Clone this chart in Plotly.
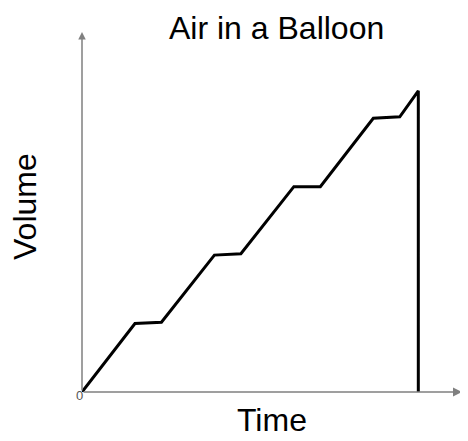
import plotly.graph_objects as go

time_vals = [0, 2, 3, 5, 6, 8, 9, 11, 12, 12.7, 12.7]
volume_vals = [0, 1, 1.02, 2, 2.02, 3, 3, 4, 4.02, 4.4, 0]

X_MAX = 14.35
Y_MAX = 5.26
FONT = "Liberation Sans, Arial"

fig = go.Figure()
fig.add_trace(go.Scatter(x=time_vals, y=volume_vals, mode="lines",
                         line=dict(color="#000000", width=3), hoverinfo="skip", cliponaxis=False))

# axes with arrows
fig.add_annotation(x=X_MAX, y=0, ax=0, ay=0, xref="x", yref="y", axref="x", ayref="y",
                   showarrow=True, arrowhead=2, arrowsize=1.2, arrowwidth=1.5,
                   arrowcolor="#808080", text="")
fig.add_annotation(x=0, y=Y_MAX, ax=0, ay=0, xref="x", yref="y", axref="x", ayref="y",
                   showarrow=True, arrowhead=2, arrowsize=1.0, arrowwidth=1.5,
                   arrowcolor="#808080", text="")
fig.add_annotation(x=0, y=0, xref="x", yref="y", text="0", showarrow=False,
                   xanchor="right", yanchor="top", xshift=3, yshift=6,
                   font=dict(family=FONT, size=13, color="#555555"))

# titles
fig.add_annotation(x=0.511, y=1.011, xref="paper", yref="paper", text="Air in a Balloon",
                   showarrow=False, xanchor="center", yanchor="middle",
                   font=dict(family=FONT, size=32, color="#000000"))
fig.add_annotation(x=0.5, y=-0.078, xref="paper", yref="paper", text="Time",
                   showarrow=False, xanchor="center", yanchor="middle",
                   font=dict(family=FONT, size=32, color="#000000"))
fig.add_annotation(x=-0.15, y=0.514, xref="paper", yref="paper", text="Volume",
                   showarrow=False, xanchor="center", yanchor="middle", textangle=-90,
                   font=dict(family=FONT, size=32, color="#000000"))

fig.update_layout(
    width=460, height=433,
    margin=dict(l=74, r=6, t=24, b=49, pad=0),
    paper_bgcolor="white", plot_bgcolor="white",
    showlegend=False,
    xaxis=dict(range=[0, X_MAX], showgrid=False, zeroline=False, showticklabels=False,
               ticks="", showline=False, automargin=False),
    yaxis=dict(range=[0, Y_MAX], showgrid=False, zeroline=False, showticklabels=False,
               ticks="", showline=False, automargin=False),
)

fig.write_html("out.html")
